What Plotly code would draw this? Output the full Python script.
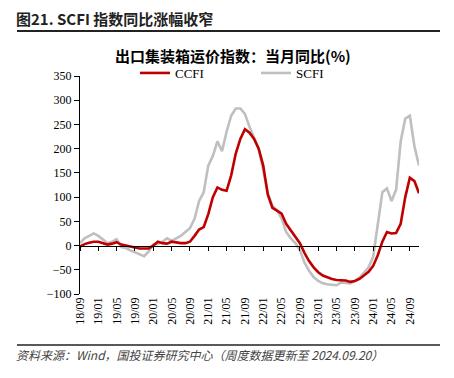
import plotly.graph_objects as go

tick_labels = ["18/09", "19/01", "19/05", "19/09", "20/01", "20/05", "20/09", "21/01",
               "21/05", "21/09", "22/01", "22/05", "22/09", "23/01", "23/05", "23/09",
               "24/01", "24/05", "24/09"]

ccfi = [-2, 3, 6, 8, 8, 5, 2, 4, 7, 2, 0, -3, -5, -6, -6, -6, 0, 8, 5, 4,
        8, 6, 5, 5, 8, 20, 33, 38, 65, 100, 120, 115, 113, 145, 190, 220, 240, 233, 220, 200,
        165, 105, 78, 72, 66, 45, 32, 18, 5, -15, -32, -45, -55, -62, -66, -69, -71, -71, -72, -75,
        -73, -69, -62, -54, -42, -20, 8, 28, 25, 26, 45, 100, 140, 133, 108]

scfi = [5, 15, 20, 25, 20, 12, 5, 8, 13, -3, -5, -10, -14, -18, -22, -12, 2, 3, 8, 15,
        10, 15, 20, 28, 36, 55, 92, 110, 165, 185, 215, 195, 235, 268, 283, 283, 272, 245, 222, 200,
        155, 108, 82, 73, 56, 28, 15, 5, -10, -35, -52, -65, -73, -78, -80, -81, -82, -76, -77, -78,
        -73, -66, -56, -45, -23, 45, 110, 118, 92, 115, 215, 262, 268, 205, 165]

idx = list(range(len(ccfi)))
tick_idx = idx[::4][:len(tick_labels)]

serif = "Liberation Serif, Times New Roman, serif"
cjk = "Noto Sans CJK SC, sans-serif"

fig = go.Figure()
fig.add_trace(go.Scatter(x=idx, y=scfi, mode="lines", name="SCFI", legend="legend2",
                         line=dict(color="#BFBFBF", width=2.6)))
fig.add_trace(go.Scatter(x=idx, y=ccfi, mode="lines", name="CCFI", legend="legend",
                         line=dict(color="#C00000", width=2.6)))
# invisible helper so the zero-line axis is drawn
fig.add_trace(go.Scatter(x=idx, y=ccfi, mode="lines", xaxis="x2", showlegend=False,
                         hoverinfo="skip", line=dict(width=0), opacity=0))

ymin, ymax = -100, 350
PW, PH = 339, 218
leg_common = dict(orientation="h", yanchor="middle", xanchor="left",
                  font=dict(family=serif, size=13, color="#000"),
                  bgcolor="rgba(0,0,0,0)", itemwidth=30)
fig.update_layout(
    width=446, height=370,
    margin=dict(l=72, r=35, t=68, b=84, autoexpand=False),
    paper_bgcolor="white", plot_bgcolor="white",
    showlegend=True,
    legend=dict(x=(135 - 80) / PW, y=1 + 3 / PH, **leg_common),
    legend2=dict(x=(256 - 80) / PW, y=1 + 3 / PH, **leg_common),
    xaxis=dict(range=[0, len(ccfi) - 1], tickmode="array", tickvals=tick_idx,
               ticktext=tick_labels, tickangle=-90, showline=False, showgrid=False,
               zeroline=False, ticks="", automargin=False,
               tickfont=dict(family=serif, size=12, color="#000")),
    xaxis2=dict(range=[0, len(ccfi) - 1], overlaying="x", anchor="free",
                position=(0 - ymin) / (ymax - ymin), tickmode="array", tickvals=tick_idx,
                showticklabels=False, showline=True, linecolor="#000", linewidth=1,
                ticks="outside", ticklen=4, tickcolor="#000", showgrid=False, zeroline=False),
    yaxis=dict(range=[ymin, ymax], dtick=50, showline=True, linecolor="#000", linewidth=1,
               ticks="outside", ticklen=5, tickcolor="#000", showgrid=False, zeroline=False,
               automargin=False, tickfont=dict(family=serif, size=12, color="#000")),
)

fig.add_annotation(text="<b>图21. SCFI 指数同比涨幅收窄</b>", xref="paper", yref="paper",
                   x=(15 - 80) / PW, y=1 + (76 - 19) / PH, xanchor="left", yanchor="middle",
                   showarrow=False, borderpad=0, font=dict(family=cjk, size=15, color="#222"))
fig.add_annotation(text="<b>出口集装箱运价指数：当月同比(%)</b>", xref="paper", yref="paper",
                   x=(233 - 80) / PW, y=1 + (76 - 55) / PH, xanchor="center", yanchor="middle",
                   showarrow=False, font=dict(family=cjk, size=15, color="#000"))
fig.add_annotation(text="资料来源：Wind，国投证券研究中心（周度数据更新至 2024.09.20）",
                   xref="paper", yref="paper",
                   x=(14 - 80) / PW, y=-(354 - 294) / PH, xanchor="left", yanchor="middle",
                   showarrow=False, font=dict(family=cjk, size=12, color="#444", style="italic"))

fig.add_shape(type="line", xref="paper", yref="paper",
              x0=(17 - 80) / PW, x1=(440 - 80) / PW,
              y0=1 + (76 - 31) / PH, y1=1 + (76 - 31) / PH,
              line=dict(color="#222", width=2))
fig.add_shape(type="line", xref="paper", yref="paper",
              x0=(17 - 80) / PW, x1=(440 - 80) / PW,
              y0=-(345 - 294) / PH, y1=-(345 - 294) / PH,
              line=dict(color="#222", width=1.3))

fig.write_html("out.html")
